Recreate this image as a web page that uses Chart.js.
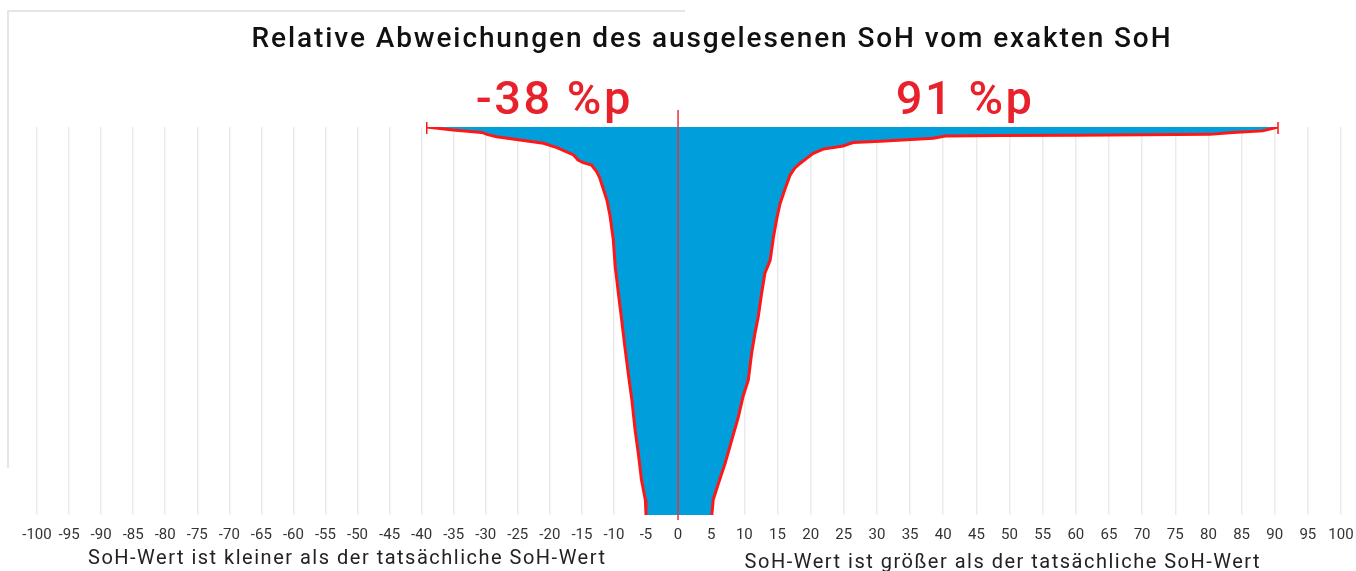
<!DOCTYPE html>
<html lang="de">
<head>
<meta charset="utf-8">
<title>Relative Abweichungen des ausgelesenen SoH vom exakten SoH</title>
<script src="https://cdn.jsdelivr.net/npm/chart.js@4/dist/chart.umd.min.js"></script>
<style>
  html, body { margin: 0; padding: 0; background: #fff; }
  #wrap { position: relative; width: 1356px; height: 571px; overflow: hidden; }
  #frame {
    position: absolute; left: 7px; top: 10px; width: 676px; height: 456px;
    border-top: 2px solid #e6e6e6; border-left: 2px solid #e6e6e6;
  }
  #chart { position: absolute; left: 0; top: 0; }
</style>
</head>
<body>
<div id="wrap">
  <div id="frame"></div>
  <canvas id="chart" width="1356" height="571"></canvas>
</div>
<script>
// Abweichung (Prozentpunkte) gegen Rang (0 = oben, 100 = unten)
const leftDev  = [-39.2, -35.1, -30.6, -29.8, -28.3, -25.2, -21.0, -18.9, -16.3, -15.6, -14.8, -13.5, -12.7, -12.2, -11.7, -11.1, -10.6, -10.1, -9.8, -9.3, -8.8, -8.3, -7.7, -7.2, -6.7, -6.2, -5.7, -5.1, -5.0];
const leftRank = [0, 0.8, 1.4, 1.9, 2.5, 3.2, 4.2, 5.3, 7.2, 8.5, 9.2, 9.8, 11.5, 13.2, 15.8, 18.8, 23.0, 29.1, 36.0, 42.9, 49.7, 56.6, 64.4, 70.4, 78.1, 84.1, 91.0, 96.1, 100];

const rightDev  = [90.5, 88.2, 83.7, 80.2, 60.0, 48.6, 40.3, 38.5, 30.5, 26.4, 24.9, 21.9, 20.4, 19.4, 18.4, 17.6, 16.9, 16.1, 15.4, 14.9, 14.4, 13.9, 13.1, 12.6, 12.1, 11.6, 11.1, 10.6, 9.8, 9.1, 8.1, 7.1, 6.1, 5.3, 5.1];
const rightRank = [0, 1.0, 1.4, 1.9, 2.1, 2.2, 2.3, 2.9, 3.7, 4.0, 4.9, 5.7, 6.8, 8.1, 9.4, 10.6, 12.4, 16.2, 19.7, 23.5, 28.3, 34.3, 37.7, 42.9, 48.9, 53.2, 58.3, 65.2, 69.5, 74.7, 80.7, 86.7, 91.8, 96.1, 100];

const minDev = -39.2;
const maxDev = 90.5;

const title = "Relative Abweichungen des ausgelesenen SoH vom exakten SoH";
const spanLabels = ["-38 %p", "91 %p"];
const sideLabels = ["SoH-Wert ist kleiner als der tatsächliche SoH-Wert", "SoH-Wert ist größer als der tatsächliche SoH-Wert"];

const BLUE = "#009edb";
const RED = "#ff1717";
const TEXT_RED = "#e8212b";

// die Achse im Original ist links etwas gestaucht: 0 liegt nicht genau in der Mitte
const ZERO_POS = 0.4916;

class SplitLinearScale extends Chart.LinearScale {
  getPixelForValue(value) {
    if (value === null || isNaN(value)) return NaN;
    const zero = this.left + this.width * ZERO_POS;
    if (value < 0) return zero + (value / -this.min) * (zero - this.left);
    return zero + (value / this.max) * (this.right - zero);
  }
  getValueForPixel(pixel) {
    const zero = this.left + this.width * ZERO_POS;
    if (pixel < zero) return -this.min * (pixel - zero) / (zero - this.left);
    return this.max * (pixel - zero) / (this.right - zero);
  }
}
SplitLinearScale.id = "splitLinear";
SplitLinearScale.defaults = Chart.LinearScale.defaults;
Chart.register(SplitLinearScale);

const toPoints = (xs, ys) => xs.map((v, i) => ({ x: v, y: ys[i] }));

// Texte
const textPlugin = {
  id: "texts",
  afterDraw(chart) {
    const { ctx } = chart;
    const x = chart.scales.x;
    ctx.save();
    ctx.textAlign = "center";
    ctx.textBaseline = "alphabetic";

    ctx.fillStyle = "#111";
    ctx.font = "500 28px Roboto";
    ctx.letterSpacing = "1.9px";
    ctx.fillText(title, 712, 47);

    ctx.fillStyle = TEXT_RED;
    ctx.font = "500 47px Roboto";
    ctx.letterSpacing = "2.5px";
    ctx.fillText(spanLabels[0], x.getPixelForValue(-19.3), 114);
    ctx.fillText(spanLabels[1], x.getPixelForValue(43.3), 114);

    ctx.fillStyle = "#222";
    ctx.font = "20px Roboto";
    ctx.letterSpacing = "1.5px";
    ctx.fillText(sideLabels[0], x.getPixelForValue(-51.6), 564);
    ctx.fillText(sideLabels[1], x.getPixelForValue(49), 568);
    ctx.restore();
  }
};

new Chart(document.getElementById("chart"), {
  type: "line",
  data: {
    datasets: [
      {
        data: toPoints(leftDev, leftRank),
        borderColor: RED,
        borderWidth: 3,
        backgroundColor: BLUE,
        fill: "+1",
        pointRadius: 0,
        order: 3
      },
      {
        data: toPoints(rightDev, rightRank),
        borderColor: RED,
        borderWidth: 3,
        fill: false,
        pointRadius: 0,
        order: 2
      },
      {
        // Nulllinie
        data: [{ x: 0, y: -4.4 }, { x: 0, y: 101.3 }],
        borderColor: "#e8343a",
        borderWidth: 1.5,
        pointRadius: 0,
        clip: false,
        order: 1
      },
      {
        data: [{ x: minDev, y: -1.3 }, { x: minDev, y: 1.8 }],
        borderColor: RED,
        borderWidth: 1.5,
        pointRadius: 0,
        clip: false,
        order: 0
      },
      {
        data: [{ x: maxDev, y: -1.3 }, { x: maxDev, y: 1.8 }],
        borderColor: RED,
        borderWidth: 1.5,
        pointRadius: 0,
        clip: false,
        order: 0
      }
    ]
  },
  options: {
    responsive: false,
    animation: false,
    indexAxis: "y",
    layout: { padding: { left: 37, right: 15, top: 127, bottom: 0 } },
    plugins: {
      legend: { display: false },
      tooltip: { enabled: false },
      title: { display: false }
    },
    scales: {
      x: {
        type: "splitLinear",
        position: "bottom",
        min: -100,
        max: 100,
        afterBuildTicks: (s) => {
          s.ticks = [];
          for (let v = -100; v <= 100; v += 5) s.ticks.push({ value: v });
        },
        afterFit: (s) => {
          s.height = 56;
          s.paddingLeft = 0;
          s.paddingRight = 0;
        },
        grid: { color: "#ebebeb", lineWidth: 1.5, drawTicks: false },
        border: { display: false },
        ticks: {
          padding: 11,
          color: "#333",
          font: { family: "Roboto", size: 15 },
          maxRotation: 0,
          autoSkip: false
        }
      },
      y: {
        type: "linear",
        reverse: true,
        min: 0,
        max: 100,
        display: false
      }
    }
  },
  plugins: [textPlugin]
});
</script>
</body>
</html>
